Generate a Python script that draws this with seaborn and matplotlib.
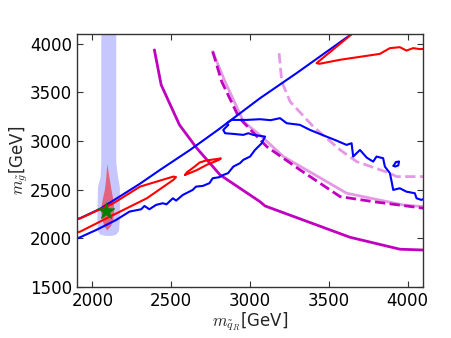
import numpy as np
import matplotlib
matplotlib.use('Agg')
import matplotlib.pyplot as plt
import seaborn as sns

# purple / pink exclusion curves
m_solid_x = [2393, 2436, 2552, 2662, 2810, 3063, 3095, 3634, 3951, 4100]
m_solid_y = [3938, 3578, 3167, 2927, 2652, 2377, 2333, 2011, 1888, 1880]
m_dash_x = [2763, 2820, 2930, 3106, 3317, 3571, 3782, 4100]
m_dash_y = [3921, 3612, 3240, 2943, 2704, 2429, 2377, 2310]
pink_solid_x = [2763, 2841, 2958, 3074, 3211, 3613, 3972, 4100]
pink_solid_y = [3921, 3612, 3201, 3046, 2841, 2464, 2343, 2326]
pink_dash_x = [3184, 3201, 3254, 3401, 3571, 3676, 3887, 3929, 4100]
pink_dash_y = [3904, 3612, 3406, 3149, 2910, 2789, 2670, 2635, 2635]

# blue contours
blue_up_x = [1880, 1922, 2050, 2155, 2300, 2429, 2619, 2800, 3063, 3295, 3660]
blue_up_y = [2190, 2207, 2305, 2412, 2560, 2704, 2909, 3120, 3441, 3699, 4120]
blue_low_x = [1880, 1908, 2024, 2150, 2235, 2309, 2330, 2361, 2404, 2446, 2470, 2510,
              2531, 2573, 2636, 2657, 2700, 2742, 2763, 2805, 2830, 2860, 2894, 2936,
              2957, 3000, 3031, 3074, 3084, 3095, 3060, 3020, 2989, 2957, 2894, 2841,
              2830, 2862, 2852, 2883, 2979, 3063, 3130, 3190, 3232, 3316, 3380, 3485,
              3538, 3612, 3644, 3654, 3697, 3740, 3781, 3802, 3844, 3855, 3887, 3898,
              3908, 3950, 3992, 4045, 4056, 4087, 4120]
blue_low_y = [1985, 2001, 2086, 2189, 2275, 2299, 2333, 2299, 2344, 2361, 2350, 2412,
              2388, 2446, 2498, 2532, 2539, 2567, 2618, 2629, 2652, 2670, 2738, 2773,
              2807, 2841, 2909, 2978, 3012, 3046, 3055, 3064, 3081, 3064, 3074, 3081,
              3115, 3167, 3184, 3218, 3218, 3225, 3215, 3236, 3184, 3167, 3115, 3046,
              3012, 2961, 2978, 2841, 2909, 2830, 2789, 2841, 2824, 2738, 2670, 2583,
              2498, 2515, 2480, 2464, 2412, 2395, 2420]
blue_island_x = [3910, 3925, 3945, 3940, 3920, 3910]
blue_island_y = [2745, 2785, 2790, 2750, 2738, 2745]

# red contours
red_a_x = [1880, 1922, 2133, 2302, 2513, 2530, 2513, 2345, 2133, 1922, 1880]
red_a_y = [2190, 2205, 2361, 2532, 2635, 2630, 2601, 2412, 2241, 2069, 2050]
red_b_x = [2587, 2600, 2650, 2680, 2720, 2815, 2800, 2730, 2660, 2600, 2587]
red_b_y = [2652, 2680, 2740, 2780, 2800, 2822, 2805, 2760, 2700, 2660, 2652]
red_c_x = [3660, 3422, 3440, 3570, 3823, 3887, 3950, 3992, 4034, 4077, 4120]
red_c_y = [4120, 3802, 3795, 3836, 3897, 3956, 3966, 3931, 3956, 3946, 3950]

# shaded regions
band_y = [2030, 2045, 2080, 2200, 2530, 2640, 2780, 4150]
band_left = [2080, 2045, 2032, 2028, 2032, 2049, 2053, 2053]
band_right = [2120, 2150, 2165, 2171, 2171, 2159, 2148, 2148]
drop_y = [2086, 2130, 2200, 2290, 2400, 2500, 2600, 2700, 2770]
drop_left = [2091, 2072, 2060, 2050, 2062, 2075, 2083, 2088, 2091]
drop_right = [2091, 2115, 2130, 2135, 2130, 2118, 2108, 2098, 2091]

star_x = [2087]
star_y = [2282]

sns.set_style('ticks')
plt.rcParams['mathtext.fontset'] = 'cm'
plt.rcParams['font.family'] = ['DejaVu Sans']

fig = plt.figure(figsize=(4.51, 3.38), dpi=100)
ax = fig.add_axes([0.170, 0.151, 0.769, 0.748])

ax.fill_betweenx(band_y, band_left, band_right, color='b', alpha=0.22, lw=0)
ax.fill_betweenx(drop_y, drop_left, drop_right, color='r', alpha=0.5, lw=0)

mag = '#bf00bf'
pink = '#e599e5'
sns.lineplot(x=pink_dash_x, y=pink_dash_y, sort=False, estimator=None, color=pink,
             lw=2, linestyle='--', ax=ax)
sns.lineplot(x=pink_solid_x, y=pink_solid_y, sort=False, estimator=None, color=pink,
             lw=2, ax=ax)
sns.lineplot(x=m_dash_x, y=m_dash_y, sort=False, estimator=None, color=mag,
             lw=2, linestyle='--', ax=ax)
sns.lineplot(x=m_solid_x, y=m_solid_y, sort=False, estimator=None, color=mag,
             lw=2, ax=ax)

for xs, ys in [(blue_up_x, blue_up_y), (blue_low_x, blue_low_y), (blue_island_x, blue_island_y)]:
    sns.lineplot(x=xs, y=ys, sort=False, estimator=None, color='b', lw=1.5, ax=ax)
for xs, ys in [(red_a_x, red_a_y), (red_b_x, red_b_y), (red_c_x, red_c_y)]:
    sns.lineplot(x=xs, y=ys, sort=False, estimator=None, color='r', lw=1.5, ax=ax)

sns.scatterplot(x=star_x, y=star_y, marker='*', s=160, color='g', edgecolor='g',
                linewidth=0.5, ax=ax, zorder=5)

ax.set_xlim(1900, 4100)
ax.set_ylim(1500, 4100)
ax.set_xticks([2000, 2500, 3000, 3500, 4000])
ax.set_yticks([1500, 2000, 2500, 3000, 3500, 4000])
ax.tick_params(direction='in', top=True, right=True, labelsize=12, length=4,
               colors='#333333', labelcolor='black')
for s in ax.spines.values():
    s.set_linewidth(1.0)
    s.set_color('#333333')

ax.set_xlabel(r'$m_{\tilde{q}_R}$[GeV]', fontsize=12, labelpad=0)
ax.set_ylabel(r'$m_{\tilde{g}}$[GeV]', fontsize=12, labelpad=0)

fig.savefig('out.png', dpi=100)
